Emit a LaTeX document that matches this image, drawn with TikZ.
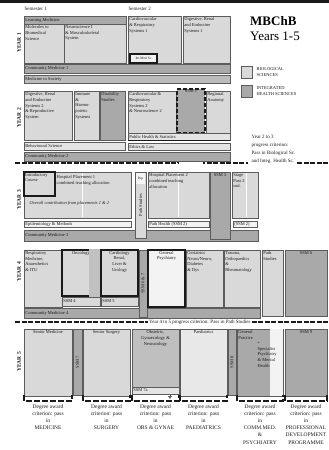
\documentclass[tikz,border=0pt]{standalone}
\usepackage{fontspec}
\setmainfont{Liberation Serif}
\usetikzlibrary{arrows.meta,positioning,fit,calc}
\definecolor{bio}{HTML}{D9D9D9}
\definecolor{integ}{HTML}{A9A9A9}
\definecolor{pale}{HTML}{F3F3F3}
\definecolor{edge}{HTML}{5C5C5C}
\definecolor{ink}{HTML}{1A1A1A}
\tikzset{
  blk/.style={draw=edge,fill=bio,inner sep=0pt,line width=0.8pt},
  iblk/.style={blk,fill=integ},
  wblk/.style={blk,fill=pale},
  hard/.style={draw=ink,line width=1.3pt},
  ssmdash/.style={iblk,draw=ink,line width=1.6pt,dash pattern=on 4pt off 2pt},
  txt/.style={font=\fontsize{4.5}{5.8}\selectfont,align=left,inner sep=1.5pt,text=ink},
  ctxt/.style={txt,align=center},
  yearlabel/.style={font=\fontsize{5.5}{6}\selectfont\bfseries,rotate=90,text=ink},
  progress/.style={draw=ink,line width=1.6pt,dash pattern=on 5pt off 1.5pt},
  award/.style={draw=ink,line width=1.4pt,dash pattern=on 6pt off 2pt},
  caption/.style={font=\fontsize{5.5}{7.2}\selectfont,align=center,inner sep=0pt,text=ink},
}
% box with text at one anchor / centred text / rotated text
\newcommand{\blk}[6][]{\node[blk,#1,fit={#3 #4}] (#2) {};
  \node[txt,anchor=#5] (#2-t) at (#2.#5) {#6};}
\newcommand{\blkc}[5][]{\node[blk,#1,fit={#3 #4}] (#2) {};
  \node[ctxt,anchor=north] (#2-t) at (#2.north) {#5};}
\newcommand{\blkv}[5][]{\node[blk,#1,fit={#3 #4}] (#2) {};
  \node[txt,rotate=90] (#2-t) at (#2.center) {#5};}
\newcommand{\awardbox}[3]{\draw[award] (#1,395) |- (#2,401) -- (#2,395);
  \node[caption,anchor=north] (aw#3) at ({(#1+#2)/2},404)}

\begin{document}
\begin{tikzpicture}[x=1pt,y=-1pt]
  \useasboundingbox (0,0) rectangle (329,450);
  \fill[ink] (0,0) rectangle (329,3);
  % header and key
  \node[txt,font=\fontsize{5}{6}\selectfont,anchor=west] (sem1) at (23,9) {Semester 1};
  \node[txt,font=\fontsize{5}{6}\selectfont,anchor=west] (sem2) at (127,9) {Semester 2};
  \node[font=\fontsize{13}{15}\selectfont\bfseries,anchor=north west,inner sep=0pt] (title) at (250,16) {MBChB};
  \node[font=\fontsize{13}{15}\selectfont,anchor=north west,inner sep=0pt] (years) at (250,32) {Years 1-5};
  \node[blk,minimum width=11pt,minimum height=12pt,anchor=north west] (keybio) at (241,66) {};
  \node[txt,anchor=north west] (keybio-t) at ([xshift=2pt]keybio.north east) {BIOLOGICAL\\SCIENCES};
  \node[iblk,minimum width=11pt,minimum height=12pt,anchor=north west] (keyint) at (241,85) {};
  \node[txt,anchor=north west] (keyint-t) at ([xshift=2pt]keyint.north east) {INTEGRATED\\HEALTH SCIENCES};
  \foreach \y/\n in {43/1,118/2,200/3,272/4,362/5}
    \node[yearlabel] (year\n) at (19,\y) {YEAR \n};

  % year 1
  \blk[iblk]{learnmed}{(24,16)}{(126,24)}{west}{Learning Medicine}
  \blk{molbio}{(24,24)}{(64,63)}{north west}{Molecules to\\Biomedical\\Science}
  \blk{neuroa}{(64,24)}{(126,63)}{north west}{Neuroscience I\\\& Musculoskeletal\\System}
  \blk{cardioa}{(128,16)}{(181,63)}{north west}{Cardiovascular\\\& Respiratory\\Systems 1}
  \node[wblk,hard,fit={(130,54) (157,63)}] (intmed) {};
  \node[txt,font=\fontsize{3.6}{4}\selectfont,inner sep=0.5pt] (intmed-t) at (intmed.center) {Int Med Sc};
  \blk{digesta}{(183,16)}{(230,63)}{north west}{Digestive, Renal\\and Endocrine\\Systems 1}
  \blk[iblk]{cma}{(24,64)}{(230,73)}{west}{Community Medicine 1}
  \blk[fill=integ!60!bio]{society}{(24,75)}{(230,83)}{west}{Medicine in Society}

  % year 2
  \blk{digestb}{(24,91)}{(72,140)}{north west}{Digestive, Renal\\and Endocrine\\Systems 2\\\& Reproductive\\System}
  \blk{immune}{(74,91)}{(99,140)}{north west}{Immune\\\&\\Haemo-\\poietic\\Systems}
  \blk[iblk]{disab}{(100,91)}{(125,140)}{north west}{Disability\\Studies}
  \blk{cardiob}{(128,91)}{(176,133)}{north west}{Cardiovascular \&\\Respiratory\\Systems 2\\\& Neuroscience 2}
  \blkc[ssmdash]{ssma}{(177,89)}{(205,133)}{SSM 1}
  \blk{regional}{(206,91)}{(230,133)}{north west}{Regional\\Anatomy}
  \blk[fill=bio!70!white]{pubhealth}{(128,133)}{(230,140)}{west}{Public Health \& Statistics}
  \draw[ink,line width=1.3pt] (pubhealth.south west) -- (pubhealth.south east);
  \blk[fill=bio!70!white]{behav}{(24,142)}{(125,150)}{west}{Behavioural Science}
  \blk[fill=bio!70!white]{ethics}{(128,143)}{(230,150)}{west}{Ethics \& Law}
  \draw[progress] (15,163) -- (178,163) -- (178,158) -- (204,158) -- (204,163) -- (248,163);
  \blk[iblk]{cmb}{(24,152)}{(230,161)}{west}{Community Medicine 2}
  \node[txt,font=\fontsize{5}{8}\selectfont,anchor=north west] (proga) at (250,133) {Year 2 to 3\\progress criterion:\\Pass in Biological Sc.\\and Integ. Health Sc.};
  \draw[progress] (proga.east |- 0,163) -- (328,163);

  % year 3
  \blk{placea}{(24,172)}{(131,218)}{north west}{}
  \draw[white,line width=1pt] (82,173) -- (82,217);
  \node[txt,anchor=north west] (placea-t2) at (55,174) {Hospital Placement 1\\combined teaching allocation};
  \blk[hard]{intro}{(24,172)}{(55,196)}{north west}{Introductory\\Course}
  \node[txt,font=\fontsize{4.5}{5.8}\selectfont\itshape,anchor=west] (overall) at (28,203) {Overall contribution from placements 1 \& 2};
  \blk[wblk]{epi}{(24,221)}{(131,227)}{west}{Epidemiology \& Methods}
  \blk[iblk]{cmc}{(24,230)}{(258,241)}{west}{Community Medicine 3}
  \blkv{pathc}{(135,172)}{(146,238)}{Path Studies}
  \node[wblk,draw=none,fit={(136,173) (145,184)}] (pop) {};
  \node[txt,font=\fontsize{3.5}{4}\selectfont,inner sep=0.5pt] (pop-t) at (pop.center) {Pop};
  \blk{placeb}{(148,172)}{(209,218)}{north west}{}
  \draw[white,line width=1pt] (178,173) -- (178,217);
  \node[txt,anchor=north west] (placeb-t2) at (placeb.north west) {Hospital Placement 2\\combined teaching\\allocation};
  \blk[wblk]{pathhealth}{(148,221)}{(209,227)}{west}{Path Health (SSM 2)}
  \blkc[iblk]{ssmc}{(210,172)}{(230,239)}{SSM 3}
  \blk{stage}{(232,172)}{(258,218)}{north west}{}
  \draw[white,line width=1pt] (246,173) -- (246,217);
  \node[txt,anchor=north west] (stage-t2) at (stage.north west) {Stage\\Pass 2\\sod.};
  \blk[wblk]{ssmb}{(233,221)}{(257,227)}{west}{(SSM 2)}

  % year 4
  \blk[iblk]{cmd}{(24,308)}{(260,318)}{west}{Community Medicine 4}
  \blk{resp}{(24,250)}{(62,307)}{north west}{Respiratory\\Medicine,\\Anaesthetics\\\& ITU}
  \blkc[hard]{onc}{(62,250)}{(100,296)}{Oncology}
  \fill[integ!50!bio] ([xshift=-0.7pt,yshift=0.7pt]onc.north east) rectangle ([xshift=-12pt,yshift=-0.7pt]onc.south east);
  \blkc[hard]{cardren}{(101,250)}{(138,296)}{Cardiology\\Renal,\\Liver \&\\Urology}
  \blk{ssmd}{(62,297)}{(100,306)}{west}{SSM 4}
  \blk{ssme}{(101,297)}{(138,306)}{west}{SSM 5}
  \blkv[iblk]{ssmf}{(139,250)}{(147,317)}{SSM 6 \& 7}
  \blkc[wblk,hard]{genpsy}{(148,250)}{(185,307)}{General\\Psychiatry}
  \blk{geri}{(186,250)}{(223,307)}{north west}{Geriatrics\\Neuro/Neuro,\\Diabetes\\\& Dys}
  \blk{trauma}{(224,250)}{(260,307)}{north west}{Trauma,\\Orthopaedics\\\&\\Rheumatology}
  \blk{pathd}{(262,250)}{(283,316)}{north west}{Path.\\Studies}
  \blkc[iblk]{ssmg}{(285,250)}{(327,316)}{SSM 6}
  \node[txt,font=\fontsize{5}{6}\selectfont,anchor=west,inner sep=1pt] (progb) at (148,322) {Year 4 to 5 progress criterion: Pass in Path Studies};
  \draw[progress] (15,322) -- (progb.west);
  \draw[progress] (progb.east) -- (328,322);

  % year 5
  \blkc{senmed}{(24,329)}{(72,396)}{Senior Medicine}
  \blkv[iblk]{ssmh}{(73,329)}{(82,395)}{SSM 7}
  \blkc{sensurg}{(83,329)}{(130,396)}{Senior Surgery}
  \blkc[fill=integ!55!bio]{obs}{(132,329)}{(179,387)}{Obstetric,\\Gynaecology \&\\Neonatology}
  \blk[fill=bio!70!white]{ssmi}{(132,387)}{(179,394)}{west}{SSM 7a}
  \coordinate (obsdrop) at (170,399);
  \draw[edge,line width=0.8pt,-{Triangle[open,length=3pt,width=4pt]}] (ssmi.south -| obsdrop) -- (obsdrop);
  \blkc[fill=bio!60!white]{paed}{(180,329)}{(227,396)}{Paediatrics}
  \blkv[iblk]{ssmj}{(228,329)}{(236,395)}{SSM 8}
  \blk[iblk]{gp}{(237,329)}{(283,396)}{north west}{General\\Practice}
  \fill[pale] ([xshift=-0.5pt,yshift=0.5pt]gp.south east) rectangle ([xshift=-13pt,yshift=-0.5pt]gp.north east);
  \node[txt,anchor=north west] (psych) at (256,340) {+\\Specialist\\Psychiatry\\\& Mental\\Health};
  \blkc[iblk]{ssmk}{(285,329)}{(327,396)}{SSM 9}

  % degree award criteria
  \awardbox{24}{72}{med}{Degree award\\criterion: pass\\in\\MEDICINE};
  \awardbox{83}{130}{surg}{Degree award\\criterion: pass\\in\\SURGERY};
  \awardbox{132}{179}{obs}{Degree award\\criterion: pass\\in\\OBS \& GYNAE};
  \awardbox{180}{227}{paed}{Degree award\\criterion: pass\\in\\PAEDIATRICS};
  \awardbox{237}{283}{comm}{Degree award\\criterion: pass\\in\\COMM.MED.\\\&\\PSYCHIATRY};
  \awardbox{285}{327}{prof}{Degree award\\criterion: pass\\in\\PROFESSIONAL\\DEVELOPMENT\\PROGRAMME};
\end{tikzpicture}
\end{document}
